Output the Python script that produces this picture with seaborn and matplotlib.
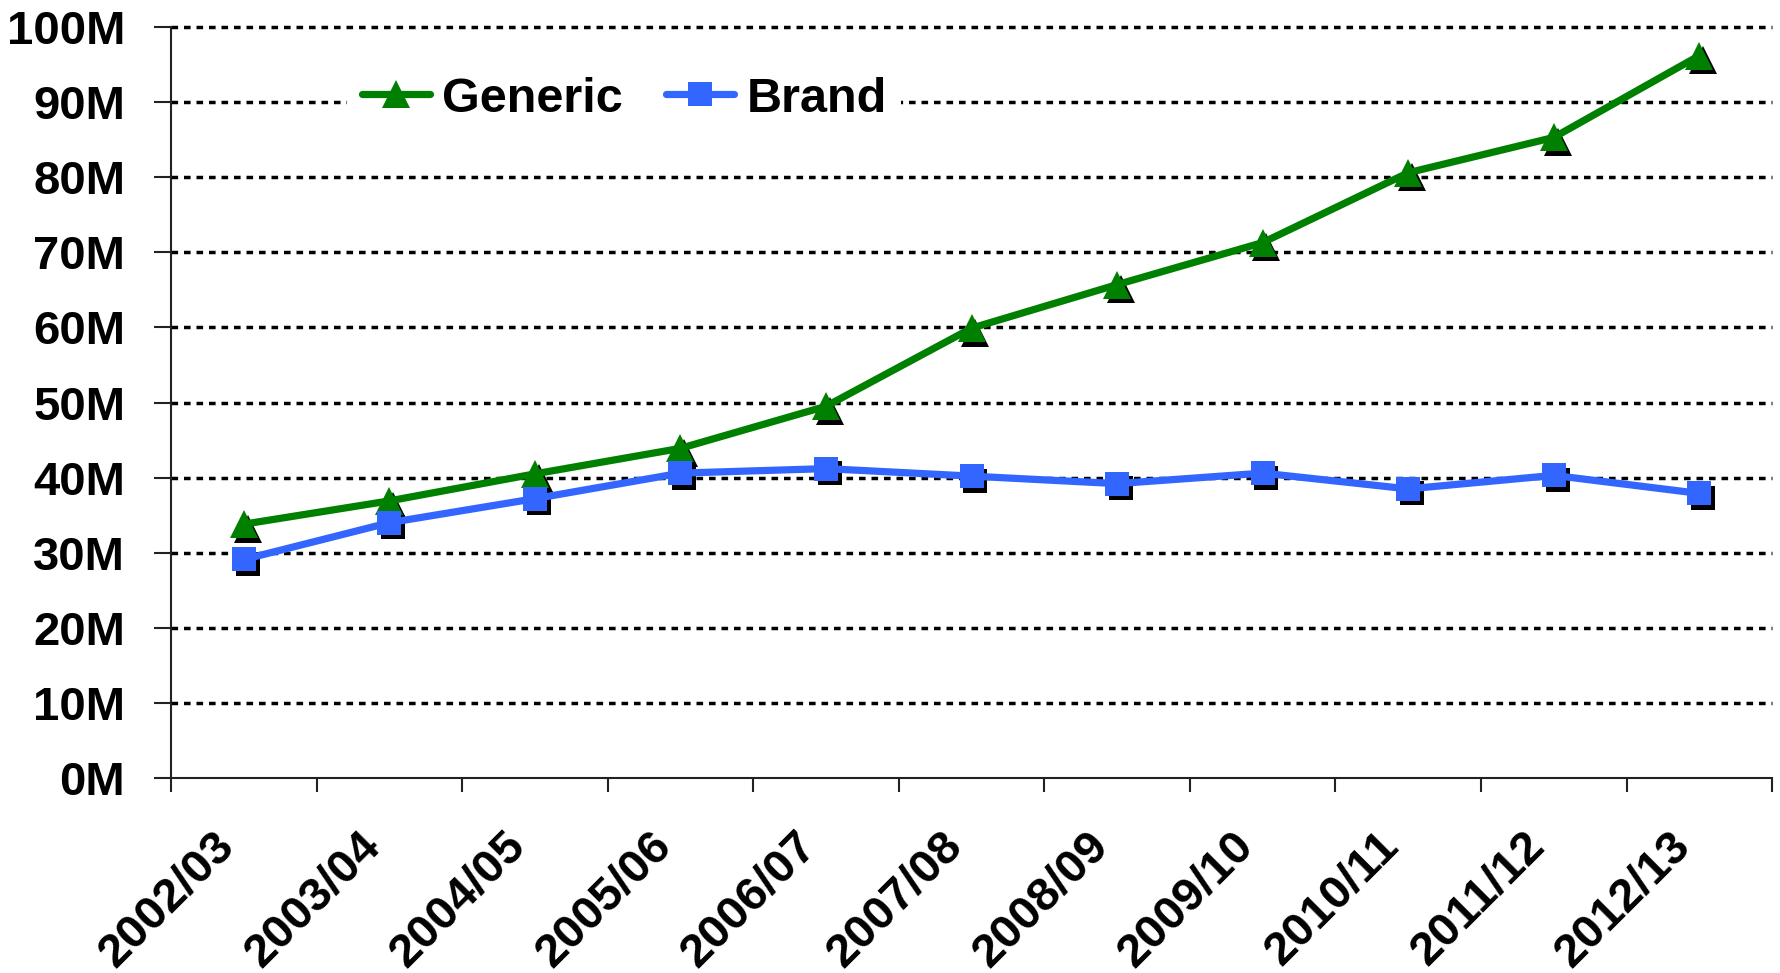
import numpy as np
import matplotlib
matplotlib.use("Agg")
import matplotlib.pyplot as plt
from matplotlib.transforms import ScaledTranslation
from matplotlib.ticker import FixedLocator, FuncFormatter
import seaborn as sns

# Prescription items per year (millions)
years = ["2002/03", "2003/04", "2004/05", "2005/06", "2006/07", "2007/08",
         "2008/09", "2009/10", "2010/11", "2011/12", "2012/13"]
generic = [33.8, 36.9, 40.5, 43.9, 49.5, 59.9, 65.7, 71.3, 80.6, 85.3, 96.2]
brand = [29.1, 34.0, 37.2, 40.6, 41.2, 40.2, 39.2, 40.6, 38.5, 40.3, 37.9]
y_ticks = [0, 10, 20, 30, 40, 50, 60, 70, 80, 90, 100]

sns.set_style("white")
plt.rcParams["font.family"] = ["Liberation Sans", "DejaVu Sans"]
plt.rcParams["font.weight"] = "bold"
plt.rcParams["text.color"] = "black"
plt.rcParams["xtick.color"] = "black"
plt.rcParams["ytick.color"] = "black"

FS = 34
LW = 5.2
fig = plt.figure(figsize=(17.81, 9.73), dpi=100)
ax = fig.add_axes([0.096, 0.2004, 0.899, 0.7718])

pos = np.arange(len(years))
series = [
    ("Generic", generic, "#008000", "^", 19.5),
    ("Brand", brand, "#3366FF", "s", 16.8),
]

# drop shadows under the markers
shadow = ax.transData + ScaledTranslation(3.8 / 100, -4.6 / 100, fig.dpi_scale_trans)
for name, vals, col, mk, ms in series:
    sns.lineplot(x=pos, y=vals, ax=ax, color="black", marker=mk, markersize=ms,
                 markeredgewidth=0, linewidth=0, transform=shadow,
                 legend=False, zorder=2)
n_shadow = len(ax.lines)

for name, vals, col, mk, ms in series:
    sns.lineplot(x=pos, y=vals, ax=ax, color=col, marker=mk, markersize=ms,
                 markeredgewidth=0, linewidth=LW, label=name, zorder=3)
for ln in ax.lines[n_shadow:]:
    ln.set_linewidth(LW)

ax.set_xlim(-0.5, len(years) - 0.5)
ax.set_ylim(0, 100)
ax.set_xlabel("")
ax.set_ylabel("")

# y axis
ax.yaxis.set_major_locator(FixedLocator(y_ticks))
ax.yaxis.set_major_formatter(FuncFormatter(lambda v, p: f"{v:.0f}M"))
ax.tick_params(axis="y", which="major", length=12, width=1.5, color="#222222",
               direction="out", pad=21, labelsize=FS, labelcolor="black",
               left=True)

# x axis: tick marks on category boundaries, labels on centres
ax.xaxis.set_major_locator(FixedLocator(np.arange(len(years) + 1) - 0.5))
ax.xaxis.set_minor_locator(FixedLocator(pos))
ax.set_xticklabels([], minor=False)
ax.set_xticklabels(years, minor=True)
ax.tick_params(axis="x", which="major", length=10, width=1.5, color="#222222",
               direction="out", bottom=True)
ax.tick_params(axis="x", which="minor", length=0, pad=44, labelsize=FS,
               labelcolor="black", bottom=True)
label_shift = ScaledTranslation(-16 / 100, 0, fig.dpi_scale_trans)
for lab in ax.get_xticklabels(minor=True):
    lab.set_rotation(45)
    lab.set_ha("right")
    lab.set_va("center")
    lab.set_rotation_mode("anchor")
    lab.set_fontweight("bold")
    lab.set_transform(lab.get_transform() + label_shift)
for lab in ax.get_yticklabels():
    lab.set_fontweight("bold")

# dotted horizontal gridlines (the zero line is the solid axis)
ax.yaxis.grid(True, color="black", linestyle=(0, (1.9, 1.7)), linewidth=2.5)
ax.xaxis.grid(False)
for gl in ax.get_ygridlines():
    gl.set_clip_on(False)
ax.get_ygridlines()[0].set_visible(False)
ax.set_axisbelow(True)

for side in ["top", "right"]:
    ax.spines[side].set_visible(False)
for side in ["left", "bottom"]:
    ax.spines[side].set_color("#222222")
    ax.spines[side].set_linewidth(1.5)

leg = ax.legend(loc="center left", bbox_to_anchor=(347 / 1781, 1 - 99 / 973),
                bbox_transform=fig.transFigure, ncol=2, frameon=True,
                fontsize=FS + 1, handlelength=1.4, handletextpad=0.25,
                columnspacing=0.9, borderpad=0.3, borderaxespad=0)
leg.get_frame().set_facecolor("white")
leg.get_frame().set_edgecolor("none")
leg.get_frame().set_alpha(1)
leg.set_zorder(5)
for t in leg.get_texts():
    t.set_fontweight("bold")
    t.set_color("black")
for h in leg.legend_handles:
    h.set_linewidth(LW)

fig.savefig("out.png", dpi=100)
